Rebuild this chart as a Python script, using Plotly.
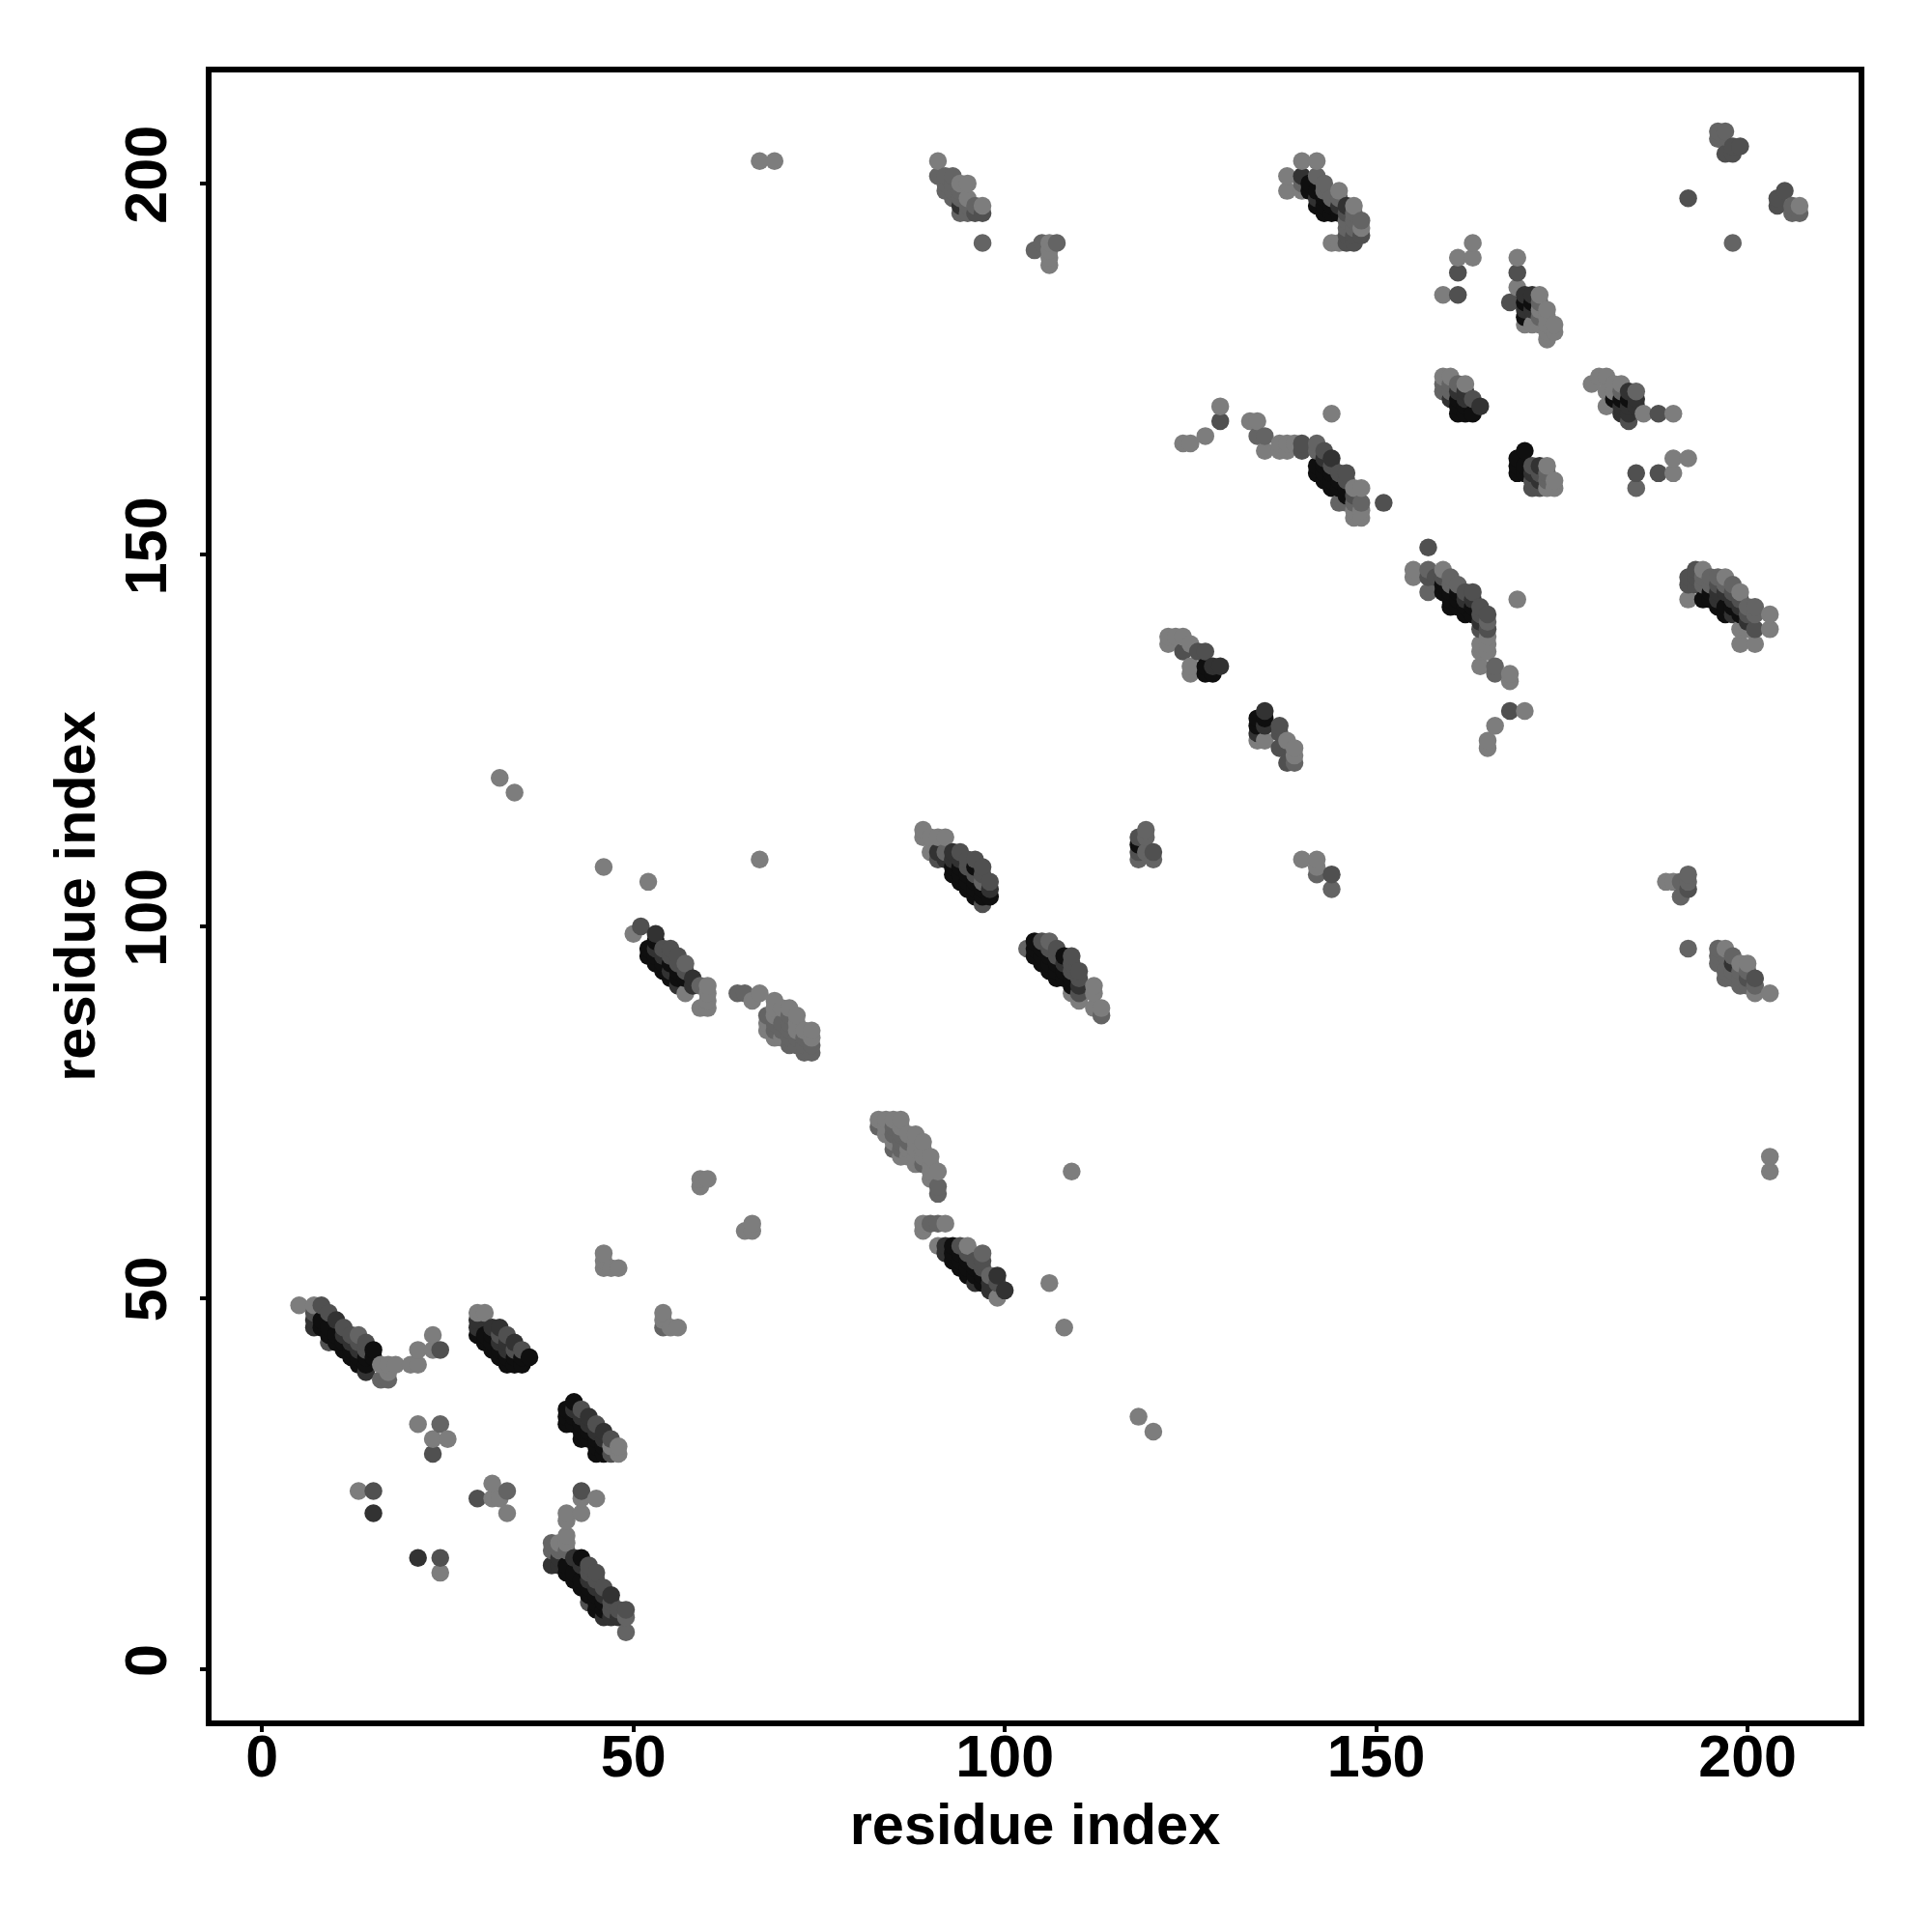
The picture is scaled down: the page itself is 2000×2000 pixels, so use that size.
import plotly.graph_objects as go

# residue pairs (x, y), grouped by grey level
grey_125 = [(5,49),(7,49),(16,41),(17,41),(18,41),(17,40),(20,41),(21,41),(21,43),(23,45),(23,43),(21,33),(25,31),(23,31),
 (13,24),(31,25),(33,21),(31,23),(32,23),(24,13),(45,23),(43,23),(43,21),(41,21),(41,20),(41,18),(41,17),(40,17),(29,48),(30,48),
 (48,30),(48,29),(47,30),(46,56),(46,55),(46,54),(47,54),(48,54),(54,48),(55,46),(56,46),(54,47),
 (50,99),(52,106),(46,108),(67,109),(57,91),(60,92),(60,91),(60,90),(60,89),(59,89),
 (67,91),(66,90),(69,90),(71,89),(72,88),(69,89),(74,86),(74,85),(73,86),(69,85),(68,86),(60,66),(59,66),(59,65),(66,60),(65,59),(66,59),
 (83,74),(84,74),(85,74),(86,74),(88,72),(89,71),(88,68),(90,69),(91,67),(90,66),(84,72),(86,69),(88,70),(87,69),(85,71),
 (109,67),(106,52),(108,46),(89,60),(89,59),(92,60),(91,57),(99,50),(95,57),
 (89,113),(89,112),(91,112),(92,112),(90,110),(90,112),(110,90),(109,91),(112,92),(112,91),(112,89),(113,89),
 (122,139),(122,138),(123,139),(124,139),(125,138),(125,135),(125,134),
 (134,125),(135,125),(138,125),(139,124),(138,122),(139,123),
 (140,109),(142,109),(142,108),(129,170),(127,166),(124,165),(125,165),(133,168),(134,168),(135,164),(137,165),(137,164),(138,165),(138,164),(139,165),
 (144,169),(147,159),(148,159),(147,156),(148,156),(147,155),(148,155),(155,148),(155,147),(159,148),
 (165,139),(164,138),(165,138),(164,137),(165,137),(164,135),(168,134),(168,133),(169,144),(170,129),(166,127),(165,125),(165,124),
 (163,192),(163,190),(169,186),(172,183),(173,183),(170,181),(171,181),(172,181),(174,181),(173,180),(174,180),(173,179),(172,185),
 (160,174),(162,173),(159,174),(179,173),(180,174),(181,172),(181,170),(183,173),(186,169),(190,169),(192,163),(190,163),(190,161),
 (173,162),(174,160),(174,159),(173,159),(194,148),(197,147),(192,144),(199,145),(203,142),(203,140),(199,140),(200,140),(199,138),(201,138),
 (140,203),(142,203),(138,201),(138,199),(140,199),(145,199),(147,197),(148,194),(144,192),(145,192),
 (189,106),(190,106),(197,97),(199,95),(200,95),(203,91),(201,91),
 (91,203),(95,200),(94,200),(95,198),(97,197),(106,192),(106,191),(106,190),(106,189),(67,203),(69,203),
 (203,69),(203,67),(118,34),(120,32),(32,120),(34,118),(207,197),
 (181,174),(161,190),(169,190),(159,185),
 (70,89),(72,87),(72,86),(69,88),(70,85),(68,87),(86,73),(87,72),(87,70),(88,71),(88,69),(89,70),(89,69),(90,68),(90,67),(84,73),
 (182,173),(182,172),(173,182),(173,181)]
grey_100 = [(13,45),(16,39),(17,39),(24,33),(33,24),(54,46),(57,95),(64,91),(65,91),(68,88),(70,86),(69,86),(71,84),(73,83),(74,83),(74,84),
 (83,73),(85,70),(91,65),(91,64),(90,60),(91,60),(98,53),(59,92),(92,110),(103,97),(106,98),(97,106),(113,88),
 (119,113),(119,112),(118,109),(120,109),(119,110),(139,122),(142,107),(144,105),(134,166),(135,166),(142,165),(142,164),(145,157),(146,157),(147,157),(148,157),
 (157,148),(160,146),(161,146),(157,145),(166,135),(166,134),(159,173),(159,172),(160,172),(185,172),(185,159),(192,107),(192,106),(191,106),(191,104),
 (192,97),(196,96),(196,95),(199,92),(201,92),(199,93),(197,94),(197,93),(91,201),(92,201),(93,201),(92,199),(93,198),(94,198),(95,196),
 (104,191),(107,192),(105,192),(97,192),(198,192),(196,147),(200,143),(201,142),(194,146),(142,201),(143,200),(147,196),(146,194),
 (196,207),(197,207),(196,206),(206,197),(206,196),(207,196),(49,7),(140,200),(49,5),(196,97)]
grey_80 = [(8,49),(9,44),(12,45),(24,43),(15,24),(29,23),(23,29),(24,15),(43,24),(45,13),(44,9),(49,8),(7,48),
 (51,100),(54,97),(55,97),(94,57),(97,55),(96,55),(98,106),(97,103),(91,109),(94,110),(107,96),(109,94),(110,94),(110,91),(118,110),(120,110),
 (126,137),(127,137),(124,137),(137,127),(137,126),(137,124),(144,107),(129,168),(140,165),(140,164),(145,161),(146,161),(151,157),
 (157,151),(157,147),(162,144),(164,142),(165,142),(164,140),(165,140),(168,129),(161,188),(161,185),(169,188),(168,184),(184,168),(188,169),
 (188,161),(185,161),(171,162),(171,159),(172,159),(193,148),(192,147),(192,146),(192,105),(192,198),(201,93),(201,140),(146,192),(147,192),
 (199,205),(198,205),(197,204),(198,204),(205,199),(204,198),(204,197),(118,112),(138,122),(97,196),(96,196),(148,193),(105,98),(95,108)]
grey_50 = [(7,46),(7,47),(10,47),(31,46),(32,46),(34,44),(44,34),(46,32),(14,40),(15,21),(21,15),(29,46),(29,47),(46,7),(47,7),(48,7),
 (53,99),(56,92),(92,57),(92,56),(96,52),(99,53),(98,51),(100,51),(93,110),(98,105),(110,92),(135,129),(135,127),(129,135),(128,135),(134,126),
 (143,163),(144,163),(140,201),(142,198),(171,161),(172,160),(162,172),(161,172),(172,162),(164,170),(170,185),(171,185),(170,183),(183,170),(184,170),(185,171),(184,169),
 (145,197),(146,197),(198,95),(198,142),(94,197),(163,144),(55,94),(91,110),(92,109),(93,109),(160,171),(196,144),(197,145),(198,144),(47,10),(40,14),(39,14),(42,15),(162,144)]
grey_15 = [(8,47),(8,46),(9,46),(9,45),(10,45),(10,44),(11,44),(11,43),(12,43),(12,42),(13,42),(13,41),(14,42),(14,41),(15,43),(15,42),
 (29,45),(30,45),(30,44),(31,45),(31,44),(31,43),(32,43),(32,42),(33,42),(33,41),(34,41),(35,41),(36,42),(34,42),(35,42),
 (42,36),(41,35),(41,34),(41,33),(42,34),(42,33),(43,33),(43,32),(43,31),(44,32),(44,31),(45,31),(45,30),(45,29),(46,29),(46,30),
 (43,15),(41,14),(41,13),(42,13),(42,12),(43,12),(43,11),(44,11),(44,10),(45,10),(45,9),(45,8),(46,9),(46,8),
 (52,96),(52,97),(53,96),(53,95),(54,95),(54,94),(55,95),(55,93),(56,93),(56,94),(57,93),(53,98),
 (93,57),(93,56),(93,55),(94,56),(94,55),(94,54),(95,55),(95,54),(95,53),(96,54),(96,53),(97,53),(97,52),
 (93,108),(93,107),(94,108),(94,107),(94,106),(95,107),(95,106),(95,105),(96,106),(96,105),(96,108),(96,104),(97,105),(97,104),(98,104),
 (104,98),(104,97),(104,96),(105,97),(105,96),(105,95),(106,96),(106,95),(106,94),(107,95),(107,94),(107,93),(108,96),(108,94),(108,93),(109,93),(109,92),
 (118,111),(127,134),(128,134),(127,135),(134,128),(134,127),(135,128),
 (142,162),(142,161),(143,162),(143,161),(143,160),(144,161),(144,160),(144,159),(145,160),(145,159),(146,159),(146,158),
 (160,143),(160,144),(160,145),(161,145),(161,144),(161,143),(162,143),(162,142),(163,143),(163,142),(159,145),(159,146),
 (161,171),(161,170),(161,169),(162,170),(162,169),(163,169),(169,163),(169,162),(169,161),(170,164),(170,162),(170,161),
 (141,200),(141,199),(142,199),(142,197),(143,198),(143,197),(143,196),(144,197),(144,196),(145,196),
 (194,144),(195,144),(195,145),(196,143),(197,143),(197,142),(198,143),(199,142),
 (170,184),(171,184),(170,182),(182,171),(183,171),(184,171)]
# upper-right sides of the bands, which sit on top of the dark cores
band_100 = [(40,16),(39,16),(39,17),(41,16),(71,88),(71,87),(71,86),(71,85),(70,87),(72,85),(72,84),(73,85),(73,84),(69,87),
 (85,73),(85,72),(86,72),(86,71),(86,70),(87,71),(89,68),(97,56),(165,141),(160,147),
 (195,146),(197,146),(198,146),(201,143),(195,147),(194,147),(183,172),(93,200),(94,199),(93,199),(95,197),(94,196),(96,197),(92,200),
 (143,199),(144,198),(145,198),(146,195),(147,194),(147,195),(148,195),(173,160),(173,161),(160,173),(161,173),(172,184),(172,182),
 (197,96),(198,96),(198,94),(199,94),(200,94),(200,92),(198,93)]
band_80 = [(9,48),(11,46),(13,44),(14,43),(14,44),(32,45),(33,45),(34,43),(35,43),(43,35),(45,33),(47,31),(47,29),
 (44,14),(44,13),(45,12),(46,11),(47,9),(48,8),(47,8),(55,96),(56,95),(56,96),(57,94),(95,109),(96,107),(97,107),(97,108),(96,109),
 (106,97),(107,97),(109,95),(109,96),(110,93),(95,56),(97,54),(99,52),(144,162),(146,160),(147,158),(143,164),
 (162,145),(163,145),(164,143),(158,147),(159,147),(196,146),(193,147),(193,146),(198,145),(199,144),(200,142),
 (146,196),(146,193),(147,193),(172,161),(171,160),(163,171),(200,93)]
band_50 = [(11,45),(12,44),(13,43),(33,44),(33,43),(32,44),(44,33),(46,31),(42,35),(43,34),(45,32),(40,15),(43,14),(44,12),(45,11),(46,10),
 (54,96),(58,93),(58,92),(53,97),(94,109),(108,95),(98,52),(164,141),(196,145),(199,143),(200,141),(184,172),(183,169),(185,170),
 (162,171),(171,183)]

shade_levels = [(125, grey_125), (100, grey_100), (80, grey_80), (50, grey_50), (15, grey_15),
                (100, band_100), (80, band_80), (50, band_50)]
tick_values = [0, 50, 100, 150, 200]
axis_label = "residue index"

merged = {}
for level, pts in shade_levels:
    for p in pts:
        merged[p] = level
ordered = sorted(merged)
xs = [p[0] for p in ordered]
ys = [p[1] for p in ordered]
cols = [f"rgb({merged[p]},{merged[p]},{merged[p]})" for p in ordered]

fig = go.Figure(go.Scatter(x=xs, y=ys, mode="markers",
    marker=dict(size=18.5, color=cols, line=dict(width=0)), showlegend=False))

tick_font = dict(family="Liberation Sans", size=61, color="black", weight="bold")
title_font = dict(family="Liberation Sans", size=59.5, color="black", weight="bold")
common = dict(tickvals=tick_values, ticks="outside", ticklen=6, tickwidth=4, tickcolor="black",
    showgrid=False, zeroline=False, showline=True, linecolor="black", linewidth=5.5, mirror=True,
    tickfont=tick_font, title=dict(text=f"<b>{axis_label}</b>", font=title_font))
fig.update_xaxes(range=[-6.79, 214.94], ticklabelstandoff=-27, title_standoff=18, **common)
fig.update_yaxes(range=[-6.88, 214.94], tickangle=-90, ticklabelstandoff=11, title_standoff=1, **common)
fig.update_layout(width=2000, height=2000, autosize=False, plot_bgcolor="white", paper_bgcolor="white",
    margin=dict(l=211.25, r=83.75, t=67.45, b=227.05, pad=0))
fig.write_html("out.html")
